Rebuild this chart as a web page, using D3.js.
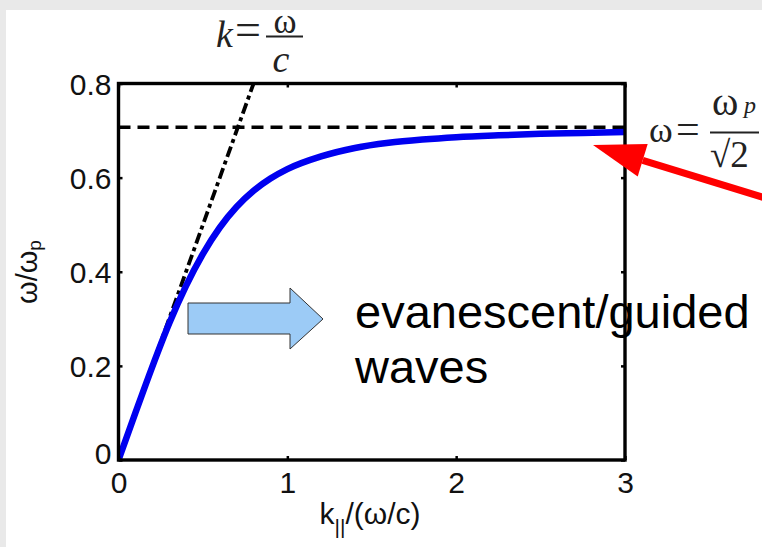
<!DOCTYPE html>
<html>
<head>
<meta charset="utf-8">
<script src="https://cdn.jsdelivr.net/npm/d3@7"></script>
<style>
  html, body { margin: 0; padding: 0; background: #e9e9e9; }
  svg { display: block; }
</style>
</head>
<body>
<svg id="chart" width="762" height="547"></svg>
<script>
// Surface plasmon dispersion: normalised frequency vs in-plane wavevector
const kTicks = [0, 1, 2, 3];
const wTicks = [0, 0.2, 0.4, 0.6, 0.8];

// blue dispersion curve, read point by point
const sppK = [0, 0.1, 0.2, 0.3, 0.4, 0.5, 0.6, 0.7, 0.8, 0.9, 1.0, 1.2, 1.4, 1.6, 1.8, 2.0, 2.25, 2.5, 2.75, 3.0];
const sppW = [0, 0.1, 0.198, 0.29, 0.37, 0.438, 0.494, 0.538, 0.572, 0.598, 0.618, 0.645, 0.663, 0.674, 0.681, 0.686, 0.69, 0.693, 0.695, 0.697];

// light line k = w/c
const lightK = [0, 0.8];
const lightW = [0, 0.8];

// surface plasmon asymptote w = wp / sqrt(2)
const asymptoteW = 0.707;

const svg = d3.select("#chart");

// white page panel
svg.append("rect").attr("x", 6).attr("y", 10).attr("width", 756).attr("height", 537).attr("fill", "#ffffff");

const padL = 118.5, padR = 625, padT = 83.5, padB = 460;
const x = d3.scaleLinear().domain([0, 3]).range([padL, padR]);
const y = d3.scaleLinear().domain([0, 0.8]).range([padB, padT]);

svg.append("defs").append("clipPath").attr("id", "plotClip")
  .append("rect").attr("x", padL).attr("y", padT).attr("width", padR - padL).attr("height", padB - padT);

const plot = svg.append("g").attr("clip-path", "url(#plotClip)");

// asymptote
plot.append("line")
  .attr("x1", x(0)).attr("x2", x(3))
  .attr("y1", y(asymptoteW)).attr("y2", y(asymptoteW))
  .attr("stroke", "#000").attr("stroke-width", 3.6)
  .attr("stroke-dasharray", "12,7");

// light line
const lightData = lightK.map((k, i) => [k, lightW[i]]);
plot.append("path")
  .datum(lightData)
  .attr("d", d3.line().x(d => x(d[0])).y(d => y(d[1])))
  .attr("fill", "none").attr("stroke", "#000").attr("stroke-width", 3.8)
  .attr("stroke-dasharray", "11,4,4,4");

// dispersion curve
const sppData = sppK.map((k, i) => [k, sppW[i]]);
plot.append("path")
  .datum(sppData)
  .attr("d", d3.line().x(d => x(d[0])).y(d => y(d[1])).curve(d3.curveMonotoneX))
  .attr("fill", "none").attr("stroke", "#0000f0").attr("stroke-width", 6.5)
  .attr("stroke-linejoin", "round");

// axes box with inward ticks
const tickLen = 4;
const axisFont = "'Liberation Sans', Arial, sans-serif";

const xAxis = d3.axisBottom(x).tickValues(kTicks).tickSizeInner(-tickLen).tickSizeOuter(0).tickPadding(12)
  .tickFormat(d3.format("d"));
const gx = svg.append("g").attr("transform", `translate(0,${padB})`).call(xAxis);
const xTop = d3.axisTop(x).tickValues(kTicks).tickSizeInner(-tickLen).tickSizeOuter(0).tickFormat("");
const gxt = svg.append("g").attr("transform", `translate(0,${padT})`).call(xTop);

const yAxis = d3.axisLeft(y).tickValues(wTicks).tickSizeInner(-tickLen).tickSizeOuter(0).tickPadding(7)
  .tickFormat(d => d === 0 ? "0" : d3.format(".1f")(d));
const gy = svg.append("g").attr("transform", `translate(${padL},0)`).call(yAxis);
const yRight = d3.axisRight(y).tickValues(wTicks).tickSizeInner(-tickLen).tickSizeOuter(0).tickFormat("");
const gyr = svg.append("g").attr("transform", `translate(${padR},0)`).call(yRight);

[gx, gxt, gy, gyr].forEach(g => {
  g.select(".domain").remove();
  g.selectAll(".tick line").attr("stroke", "#000").attr("stroke-width", 2.5);
  g.selectAll(".tick text").attr("font-family", axisFont).attr("font-size", 30).attr("fill", "#111");
});
gy.selectAll(".tick text").attr("dy", "0.36em");
gy.selectAll(".tick").filter(d => d === 0).select("text").attr("dy", "0.1em").attr("x", -7);

svg.append("rect")
  .attr("x", padL).attr("y", padT).attr("width", padR - padL).attr("height", padB - padT)
  .attr("fill", "none").attr("stroke", "#000").attr("stroke-width", 3.4);

// axis titles
const xt = svg.append("text").attr("x", 370).attr("y", 524).attr("text-anchor", "middle")
  .attr("font-family", axisFont).attr("font-size", 30).attr("fill", "#111");
xt.append("tspan").text("k");
xt.append("tspan").attr("font-size", 21).attr("dy", 10).text("||");
xt.append("tspan").attr("dy", -10).text("/(ω/c)");

const yt = svg.append("text").attr("transform", "translate(37,272) rotate(-90)").attr("text-anchor", "middle")
  .attr("font-family", axisFont).attr("font-size", 29).attr("fill", "#111");
yt.append("tspan").text("ω/ω");
yt.append("tspan").attr("font-size", 19).attr("dy", 4).text("p");

// block arrow pointing at the text
const arrow = [[188, 303], [290, 303], [290, 288], [323, 319], [290, 349], [290, 334], [188, 334]];
svg.append("polygon")
  .attr("points", arrow.map(p => p.join(",")).join(" "))
  .attr("fill", "#9ccbf6").attr("stroke", "#333").attr("stroke-width", 1);

const noteFont = "'Liberation Sans', Arial, sans-serif";
svg.append("text").attr("x", 355).attr("y", 328)
  .attr("font-family", noteFont).attr("font-size", 47).attr("fill", "#000")
  .text("evanescent/guided");
svg.append("text").attr("x", 355).attr("y", 383)
  .attr("font-family", noteFont).attr("font-size", 47).attr("fill", "#000")
  .text("waves");

// red pointer arrow
const tip = [593, 145], tail = [775, 201];
const ang = Math.atan2(tail[1] - tip[1], tail[0] - tip[0]);
const headLen = 52, headHalf = 17;
const bx = tip[0] + headLen * Math.cos(ang), by = tip[1] + headLen * Math.sin(ang);
svg.append("line").attr("x1", bx).attr("y1", by).attr("x2", tail[0]).attr("y2", tail[1])
  .attr("stroke", "#ff0000").attr("stroke-width", 7);
svg.append("polygon")
  .attr("points", [
    tip,
    [bx + headHalf * Math.sin(ang), by - headHalf * Math.cos(ang)],
    [bx - headHalf * Math.sin(ang), by + headHalf * Math.cos(ang)]
  ].map(p => p.join(",")).join(" "))
  .attr("fill", "#ff0000");

// formula labels
const serif = "'Liberation Serif', 'Times New Roman', serif";
function txt(xp, yp, s, size, italic, anchor) {
  return svg.append("text").attr("x", xp).attr("y", yp)
    .attr("font-family", serif).attr("font-size", size)
    .attr("font-style", italic ? "italic" : "normal")
    .attr("text-anchor", anchor || "start").attr("fill", "#222").text(s);
}
// k = w / c
txt(216, 47, "k", 38, true);
txt(235, 45, "=", 46, false);
svg.append("line").attr("x1", 266).attr("x2", 303).attr("y1", 36.5).attr("y2", 36.5).attr("stroke", "#222").attr("stroke-width", 2);
txt(285, 33, "ω", 35, false, "middle");
txt(281, 72, "c", 38, true, "middle");

// w = wp / sqrt 2
txt(649, 142, "ω", 36, false);
txt(676, 143, "=", 42, false);
svg.append("line").attr("x1", 710).attr("x2", 759).attr("y1", 132.5).attr("y2", 132.5).attr("stroke", "#222").attr("stroke-width", 2);
txt(712, 115, "ω", 40, false);
txt(744, 113, "p", 24, true);
txt(710, 167, "√2", 37, false);
</script>
</body>
</html>
